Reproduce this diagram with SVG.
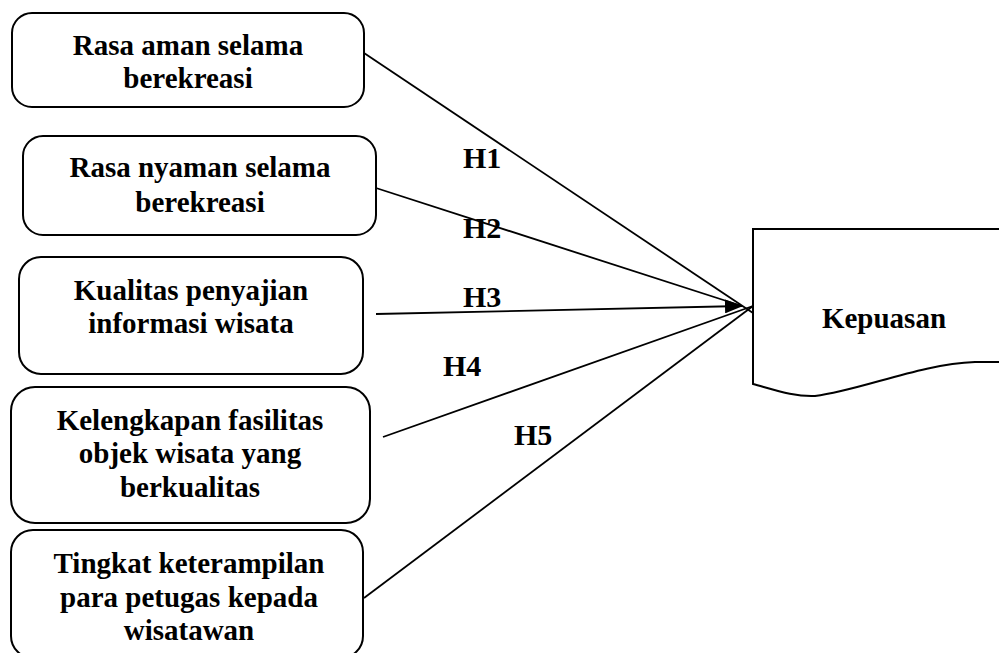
<svg xmlns="http://www.w3.org/2000/svg" width="999" height="653" viewBox="0 0 999 653">
<style>
.box{fill:#fff;stroke:#000;stroke-width:2}
.t{font-family:"Liberation Serif","Times New Roman",serif;font-weight:bold;font-size:29px;fill:#000;text-anchor:middle}
.h{font-family:"Liberation Serif","Times New Roman",serif;font-weight:bold;font-size:30px;fill:#000}
.c{stroke:#000;stroke-width:1.8;fill:none}
</style>
<defs>
<marker id="arr" markerWidth="18" markerHeight="14" refX="17" refY="7" orient="auto" markerUnits="userSpaceOnUse">
<path d="M0,0 L18,7 L0,14 Z" fill="#000"/>
</marker>
</defs>
<rect width="999" height="653" fill="#fff"/>
<g id="n1">
<rect class="box" x="12" y="13" width="352" height="94" rx="20"/>
<text class="t" x="188" y="55">Rasa aman selama</text>
<text class="t" x="188" y="88">berekreasi</text>
</g>
<g id="n2">
<rect class="box" x="23" y="136" width="353" height="99" rx="20"/>
<text class="t" x="200" y="177">Rasa nyaman selama</text>
<text class="t" x="200" y="212">berekreasi</text>
</g>
<g id="n3">
<rect class="box" x="19" y="257" width="344" height="117" rx="22"/>
<text class="t" x="191" y="300">Kualitas penyajian</text>
<text class="t" x="191" y="333">informasi wisata</text>
</g>
<g id="n4">
<rect class="box" x="11" y="387" width="359" height="136" rx="24"/>
<text class="t" x="190" y="430">Kelengkapan fasilitas</text>
<text class="t" x="190" y="463">objek wisata yang</text>
<text class="t" x="190" y="497">berkualitas</text>
</g>
<g id="n5">
<rect class="box" x="11" y="530" width="352" height="128" rx="22"/>
<text class="t" x="189" y="573">Tingkat keterampilan</text>
<text class="t" x="189" y="607">para petugas kepada</text>
<text class="t" x="189" y="640">wisatawan</text>
</g>
<g id="kepuasan">
<path class="box" d="M753,229 L1002,229 L1002,362 L975,362 C920,364 862,390 815,396 C795,397 775,390 753,384 Z"/>
<text class="t" x="884" y="328">Kepuasan</text>
</g>
<g id="connectors">
<line class="c" x1="364" y1="53" x2="753" y2="313"/>
<line class="c" x1="376" y1="188" x2="742" y2="306"/>
<line class="c" x1="376" y1="314" x2="742" y2="306" stroke-width="2.6" marker-end="url(#arr)"/>
<line class="c" x1="383" y1="437" x2="753" y2="306"/>
<line class="c" x1="364" y1="598" x2="753" y2="306"/>
</g>
<g id="labels">
<text class="h" x="463" y="168">H1</text>
<text class="h" x="463" y="238">H2</text>
<text class="h" x="463" y="307">H3</text>
<text class="h" x="443" y="376">H4</text>
<text class="h" x="514" y="445">H5</text>
</g>
</svg>
